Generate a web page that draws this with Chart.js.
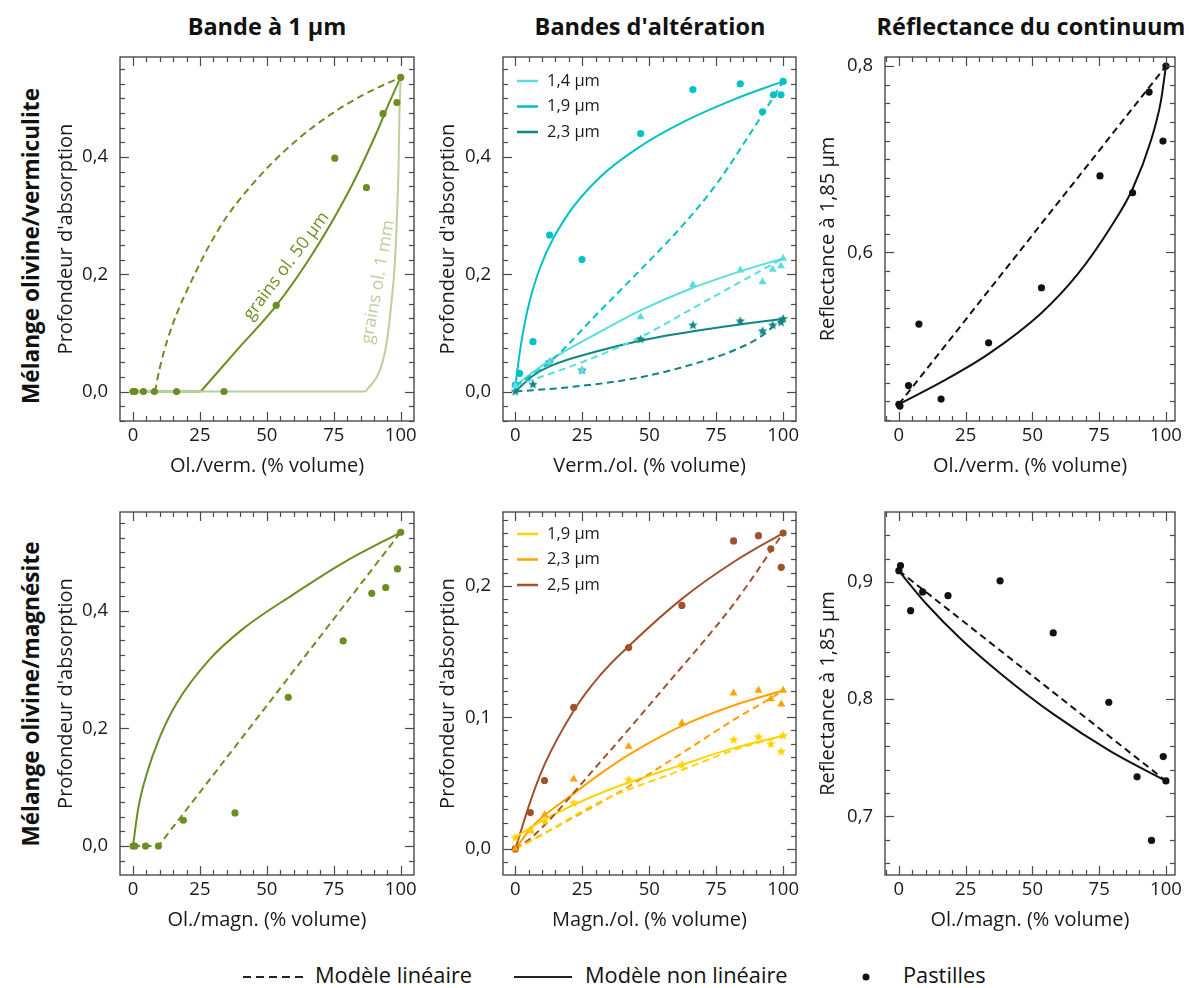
<!DOCTYPE html>
<html>
<head>
<meta charset="utf-8">
<script src="https://cdn.jsdelivr.net/npm/chart.js@4.4.0/dist/chart.umd.min.js"></script>
<style>
  body { margin: 0; background: #fff; font-family: 'Open Sans', sans-serif; color: #111; }
  #fig { position: relative; width: 1189px; height: 988px; overflow: hidden; }
  canvas { position: absolute; }
  .coltitle { position: absolute; top: 10px; font-weight: bold; font-size: 23.5px; white-space: nowrap; transform: translateX(-50%); }
  .rowtitle { position: absolute; left: 30px; font-weight: bold; font-size: 22.6px; white-space: nowrap; transform: translate(-50%, -50%) rotate(-90deg); }
  .leg { position: absolute; font-size: 21.8px; white-space: nowrap; top: 960px; }
  .legsvg { position: absolute; top: 970px; }
</style>
</head>
<body>
<div id="fig">
  <div class="coltitle" style="left:267px">Bande à 1 µm</div>
  <div class="coltitle" style="left:650px">Bandes d'altération</div>
  <div class="coltitle" style="left:1031px">Réflectance du continuum</div>
  <div class="rowtitle" style="top:246px">Mélange olivine/vermiculite</div>
  <div class="rowtitle" style="top:694px">Mélange olivine/magnésite</div>

  <svg class="legsvg" style="left:243px" width="62" height="14"><line x1="0" y1="7" x2="60" y2="7" stroke="#222" stroke-width="2" stroke-dasharray="8 5"/></svg>
  <div class="leg" style="left:315px">Modèle linéaire</div>
  <svg class="legsvg" style="left:514px" width="60" height="14"><line x1="0" y1="7" x2="58" y2="7" stroke="#222" stroke-width="2.2"/></svg>
  <div class="leg" style="left:585px">Modèle non linéaire</div>
  <svg class="legsvg" style="left:860px" width="14" height="14"><circle cx="6" cy="7" r="3.5" fill="#111"/></svg>
  <div class="leg" style="left:903px">Pastilles</div>
</div>

<script>
// ---- ticks ----
const xTicks = [0, 25, 50, 75, 100];
const yTicksAbs = [0, 0.2, 0.4];
const yTicksRefl1 = [0.6, 0.8];
const yTicksAbs2 = [0, 0.1, 0.2];
const yTicksRefl2 = [0.7, 0.8, 0.9];

// ---- panel 1 : olivine/vermiculite, bande a 1 um ----
const p1_pts_x = [0, 0.7, 3.9, 8, 16.3, 34, 53.5, 75.4, 87.2, 93.4, 98.6, 100];
const p1_pts_y = [0, 0, 0, 0, 0, 0, 0.147, 0.398, 0.348, 0.474, 0.493, 0.536];
const p1_lin_x = [8.2, 10, 13, 17, 22, 28, 35, 43, 52, 62, 73, 86, 100];
const p1_lin_y = [0, 0.04, 0.09, 0.14, 0.19, 0.245, 0.298, 0.345, 0.39, 0.432, 0.47, 0.506, 0.536];
const p1_nl50_flat = [0, 25.3];
const p1_nl50_x = [25.3, 39.3, 53.5, 67.5, 81.3, 90.9, 95.9, 100];
const p1_nl50_y = [0, 0.073, 0.1465, 0.238, 0.3476, 0.4405, 0.4946, 0.536];
const p1_nl1mm_flat = [0, 86.9];
const p1_nl1mm_x = [86.9, 92.2, 94.7, 96.5, 97.8, 98.6, 99.2, 99.5, 100];
const p1_nl1mm_y = [0, 0.036, 0.0815, 0.15, 0.218, 0.298, 0.383, 0.469, 0.536];

// ---- panel 2 : vermiculite/olivine, bandes d'alteration ----
const p2_names = ['1,4 µm', '1,9 µm', '2,3 µm'];
const p2_14_x = [0, 12.8, 24.9, 46.8, 66.3, 84, 92.3, 96.1, 99.2, 100];
const p2_14_y = [0.01, 0.05, 0.036, 0.127, 0.182, 0.207, 0.187, 0.208, 0.214, 0.227];
const p2_14_nl_x = [0, 12.8, 31.7, 46.6, 66.3, 84, 100];
const p2_14_nl_y = [0.01, 0.053, 0.102, 0.138, 0.177, 0.205, 0.227];
const p2_14_lin_x = [0, 24.9, 46.8, 69.4, 94, 100];
const p2_14_lin_y = [0.01, 0.05, 0.093, 0.15, 0.212, 0.227];
const p2_19_x = [0, 1.6, 6.6, 12.8, 24.9, 46.8, 66.3, 84, 92.3, 96.4, 99.2, 100];
const p2_19_y = [0.011, 0.031, 0.085, 0.267, 0.225, 0.44, 0.515, 0.525, 0.477, 0.506, 0.506, 0.529];
const p2_19_nl_x = [0, 1.9, 4.4, 9.3, 19.3, 31.7, 46.6, 62.8, 81.5, 100];
const p2_19_nl_y = [0.01, 0.074, 0.136, 0.212, 0.3, 0.366, 0.418, 0.46, 0.498, 0.529];
const p2_19_lin_x = [0, 12.8, 31.7, 46.6, 62.8, 75.3, 87.7, 94, 100];
const p2_19_lin_y = [0.01, 0.05, 0.138, 0.207, 0.285, 0.355, 0.44, 0.485, 0.529];
const p2_23_x = [0, 6.6, 12.8, 24.9, 46.8, 66.3, 84, 92.3, 96.1, 99.2, 100];
const p2_23_y = [0, 0.012, 0.05, 0.036, 0.089, 0.113, 0.12, 0.103, 0.113, 0.118, 0.124];
const p2_23_nl_x = [0, 6.6, 12.8, 31.7, 50.3, 69.4, 87.7, 100];
const p2_23_nl_y = [0, 0.027, 0.043, 0.07, 0.09, 0.105, 0.117, 0.124];
const p2_23_lin_x = [0, 19.3, 44.1, 62.8, 81.5, 91.4, 96.1, 100];
const p2_23_lin_y = [0, 0.007, 0.022, 0.042, 0.07, 0.093, 0.11, 0.124];

// ---- panel 3 : olivine/vermiculite, reflectance ----
const p3_pts_x = [0, 0.4, 3.6, 7.5, 15.8, 33.6, 53.4, 75.3, 87.5, 93.7, 98.9, 100];
const p3_pts_y = [0.437, 0.435, 0.457, 0.523, 0.4425, 0.503, 0.562, 0.682, 0.664, 0.772, 0.7195, 0.8];
const p3_lin_x = [0, 100];
const p3_lin_y = [0.437, 0.8];
const p3_nl_x = [0, 16.7, 33.6, 53.4, 66.8, 79.3, 87.5, 94.4, 98.1, 100];
const p3_nl_y = [0.437, 0.462, 0.491, 0.535, 0.576, 0.627, 0.668, 0.72, 0.762, 0.8];

// ---- panel 4 : olivine/magnesite, bande a 1 um ----
const p4_pts_x = [0, 0.7, 4.7, 9.5, 18.8, 38.1, 58, 78.5, 89.2, 94.4, 98.8, 100];
const p4_pts_y = [0, 0, 0, 0, 0.0438, 0.0563, 0.253, 0.349, 0.43, 0.44, 0.4716, 0.534];
const p4_lin_x = [0, 9.5, 100];
const p4_lin_y = [0, 0, 0.534];
const p4_nl_x = [0, 2, 5.1, 10.1, 16.3, 28.7, 41.2, 59.8, 78.5, 100];
const p4_nl_y = [0, 0.065, 0.122, 0.186, 0.243, 0.318, 0.37, 0.428, 0.482, 0.534];

// ---- panel 5 : magnesite/olivine, bandes d'alteration ----
const p5_names = ['1,9 µm', '2,3 µm', '2,5 µm'];
const p5_19_x = [0, 5.6, 10.9, 21.8, 42.3, 62.2, 81.5, 90.8, 95.4, 99.3, 100];
const p5_19_y = [0.0086, 0.0139, 0.0208, 0.0347, 0.0525, 0.0639, 0.0829, 0.085, 0.0796, 0.074, 0.086];
const p5_19_nl_x = [0, 10.9, 31.7, 62.2, 81.5, 100];
const p5_19_nl_y = [0.009, 0.0224, 0.0423, 0.0639, 0.0766, 0.086];
const p5_19_lin_x = [0, 6.8, 31.7, 62.2, 81.5, 100];
const p5_19_lin_y = [0, 0.007, 0.036, 0.06, 0.075, 0.086];
const p5_23_x = [0, 5.6, 10.9, 21.8, 42.3, 62.2, 81.5, 90.8, 95.4, 99.3, 100];
const p5_23_y = [0, 0.0139, 0.0259, 0.053, 0.0778, 0.0956, 0.1184, 0.1204, 0.114, 0.11, 0.1204];
const p5_23_nl_x = [0, 6.8, 21.8, 31.7, 42.3, 62.2, 81.5, 100];
const p5_23_nl_y = [0, 0.018, 0.042, 0.057, 0.0715, 0.0935, 0.109, 0.1204];
const p5_23_lin_x = [0, 42.3, 62.2, 81.5, 95.4, 100];
const p5_23_lin_y = [0, 0.0474, 0.0728, 0.098, 0.1146, 0.1204];
const p5_25_x = [0, 5.6, 10.9, 21.8, 42.3, 62.2, 81.5, 90.8, 95.4, 99.3, 100];
const p5_25_y = [0, 0.0276, 0.052, 0.1075, 0.153, 0.185, 0.234, 0.238, 0.228, 0.214, 0.24];
const p5_25_nl_x = [0, 5.6, 10.9, 21.8, 31.7, 42.3, 62.2, 81.5, 100];
const p5_25_nl_y = [0, 0.036, 0.064, 0.105, 0.132, 0.154, 0.19, 0.218, 0.24];
const p5_25_lin_x = [0, 6.8, 31.7, 56.6, 81.5, 100];
const p5_25_lin_y = [0, 0.01, 0.066, 0.125, 0.186, 0.24];

// ---- panel 6 : olivine/magnesite, reflectance ----
const p6_pts_x = [0, 0.6, 4.4, 8.9, 18.4, 37.9, 57.8, 78.6, 89.2, 94.6, 99, 100];
const p6_pts_y = [0.9096, 0.914, 0.8755, 0.8915, 0.8883, 0.901, 0.8565, 0.7974, 0.7338, 0.6795, 0.751, 0.7303];
const p6_lin_x = [0, 100];
const p6_lin_y = [0.9096, 0.7303];
const p6_nl_x = [0, 4.1, 10.4, 22.9, 38, 58, 79.3, 100];
const p6_nl_y = [0.9096, 0.898, 0.881, 0.852, 0.822, 0.787, 0.7555, 0.7303];

// colours
const GREEN = '#6b8e23', GREEN_LIGHT = '#bccf9c';
const C14 = '#58dde3', C19 = '#00c1c6', C23 = '#0f8585';
const Y19 = '#ffd200', O23 = '#ffa200', B25 = '#a0522d';
const BLACK = '#111111';

Chart.defaults.font.family = "'Open Sans', sans-serif";
Chart.defaults.color = '#1a1a1a';

const zip = (xs, ys) => xs.map((x, i) => ({ x: x, y: ys[i] }));

function starImg(color, r) {
  const c = document.createElement('canvas');
  const s = Math.ceil(r * 2) + 2;
  c.width = c.height = s;
  const g = c.getContext('2d');
  g.fillStyle = color;
  g.beginPath();
  for (let i = 0; i < 10; i++) {
    const rr = i % 2 ? r * 0.45 : r;
    const a = -Math.PI / 2 + i * Math.PI / 5;
    g.lineTo(s / 2 + rr * Math.cos(a), s / 2 + rr * Math.sin(a));
  }
  g.closePath();
  g.fill();
  return c;
}

function curve(xs, ys, color, dashed, straight) {
  const ds = {
    data: zip(xs, ys), showLine: true, borderColor: color, borderWidth: 2,
    borderDash: dashed ? [7, 4.5] : [], pointRadius: 0, order: 2, clip: false
  };
  if (straight) ds.tension = 0;
  else ds.cubicInterpolationMode = 'monotone';
  return ds;
}
function flat(range, color) {
  return { data: range.map(x => ({ x: x, y: 0 })), showLine: true, borderColor: color,
    borderWidth: 2, pointRadius: 0, tension: 0, order: 2 };
}
function dots(xs, ys, color, style) {
  const st = style === 'star' ? starImg(color, 5) : (style || 'circle');
  return { data: zip(xs, ys), showLine: false, pointStyle: st, pointRadius: style === 'triangle' ? 4.6 : 3.6,
    backgroundColor: color, borderColor: color, borderWidth: 0, order: 0, clip: false };
}

// frame with inward ticks on the four sides
const frameTicks = {
  id: 'frameTicks',
  afterDraw(chart, args, o) {
    const { ctx, chartArea: a, scales: { x, y } } = chart;
    ctx.save();
    ctx.strokeStyle = '#3c3c3c';
    ctx.lineWidth = 1.3;
    ctx.strokeRect(a.left, a.top, a.right - a.left, a.bottom - a.top);
    ctx.strokeStyle = '#4a4a4a';
    ctx.lineWidth = 1.2;
    const seg = (x1, y1, x2, y2) => { ctx.beginPath(); ctx.moveTo(x1, y1); ctx.lineTo(x2, y2); ctx.stroke(); };
    for (let k = Math.ceil(x.min / o.xMinor - 1e-9); k * o.xMinor <= x.max + 1e-9; k++) {
      const v = k * o.xMinor;
      const px = Math.round(x.getPixelForValue(v)) + 0.5;
      const len = x.ticks.some(t => Math.abs(t.value - v) < 1e-6) ? 9 : 5;
      seg(px, a.bottom, px, a.bottom - len);
      seg(px, a.top, px, a.top + len);
    }
    for (let k = Math.ceil(y.min / o.yMinor - 1e-9); k * o.yMinor <= y.max + 1e-9; k++) {
      const v = k * o.yMinor;
      const py = Math.round(y.getPixelForValue(v)) + 0.5;
      const len = y.ticks.some(t => Math.abs(t.value - v) < 1e-6) ? 9 : 5;
      seg(a.left, py, a.left + len, py);
      seg(a.right, py, a.right - len, py);
    }
    ctx.restore();
  }
};

// small legend inside the plot (panels 2 and 5)
const inLegend = {
  id: 'inLegend',
  afterDraw(chart, args, o) {
    if (!o.items) return;
    const { ctx, chartArea: a } = chart;
    ctx.save();
    o.items.forEach((it, i) => {
      const yy = a.top + o.top + i * 25.5;
      ctx.strokeStyle = it.color;
      ctx.lineWidth = 2.5;
      ctx.beginPath(); ctx.moveTo(a.left + 14, yy); ctx.lineTo(a.left + 35, yy); ctx.stroke();
      ctx.fillStyle = '#1a1a1a';
      ctx.font = "16.5px 'Open Sans', sans-serif";
      ctx.textBaseline = 'middle';
      ctx.fillText(it.label, a.left + 44, yy);
    });
    ctx.restore();
  }
};

// rotated labels along curves (panel 1)
const curveLabels = {
  id: 'curveLabels',
  afterDatasetsDraw(chart, args, o) {
    if (!o.items) return;
    const { ctx, scales: { x, y } } = chart;
    ctx.save();
    o.items.forEach(it => {
      ctx.translate(x.getPixelForValue(it.x), y.getPixelForValue(it.y));
      ctx.rotate(it.angle * Math.PI / 180);
      ctx.fillStyle = it.color;
      ctx.font = "17.5px 'Open Sans', sans-serif";
      ctx.textAlign = 'center';
      ctx.textBaseline = 'middle';
      ctx.fillText(it.text, 0, 0);
      ctx.setTransform(1, 0, 0, 1, 0, 0);
    });
    ctx.restore();
  }
};

const fmt = v => v.toFixed(1).replace('.', ',');
const PAD = 12, YW = 80, XH = 60;

function makePanel(p) {
  const c = document.createElement('canvas');
  const w = p.right - p.left + YW + PAD, h = p.bottom - p.top + XH + PAD;
  c.width = w; c.height = h;
  c.style.left = (p.left - YW) + 'px';
  c.style.top = (p.top - PAD) + 'px';
  c.style.width = w + 'px'; c.style.height = h + 'px';
  document.getElementById('fig').appendChild(c);
  new Chart(c, {
    type: 'scatter',
    data: { datasets: p.datasets },
    plugins: [frameTicks, inLegend, curveLabels],
    options: {
      responsive: false, animation: false, devicePixelRatio: 1,
      layout: { padding: { top: PAD, right: PAD, left: 0, bottom: 0 } },
      plugins: {
        legend: { display: false }, tooltip: { enabled: false },
        frameTicks: { xMinor: 5, yMinor: p.yMinor },
        inLegend: { items: p.legend, top: p.legendTop || 24 },
        curveLabels: { items: p.labels }
      },
      scales: {
        x: {
          type: 'linear', min: p.xMin, max: p.xMax,
          grid: { display: false, drawTicks: false }, border: { display: false },
          afterBuildTicks: ax => { ax.ticks = xTicks.map(v => ({ value: v })); },
          ticks: { padding: 4, color: '#1a1a1a', font: { size: 18.5 }, maxRotation: 0, autoSkip: false, callback: v => String(v) },
          title: { display: true, text: p.xTitle, color: '#1a1a1a', font: { size: 20 }, padding: { top: 0, bottom: 3 } },
          afterFit: ax => { ax.height = XH; ax.paddingLeft = 0; ax.paddingRight = 0; }
        },
        y: {
          type: 'linear', min: p.yMin, max: p.yMax,
          grid: { display: false, drawTicks: false }, border: { display: false },
          afterBuildTicks: ax => { ax.ticks = p.yTicks.map(v => ({ value: v })); },
          ticks: { padding: 12, color: '#1a1a1a', font: { size: 18.5 }, autoSkip: false, callback: fmt },
          title: { display: true, text: p.yTitle, color: '#1a1a1a', font: { size: 20 }, padding: { top: p.yTitlePad, bottom: 0 } },
          afterFit: ax => { ax.width = YW; ax.paddingTop = 0; ax.paddingBottom = 0; }
        }
      }
    }
  });
}

const ABS = "Profondeur d'absorption";
const REF = 'Reflectance à 1,85 µm';

makePanel({
  left: 120, right: 414, top: 57, bottom: 421, xMin: -4.85, xMax: 104.97, yMin: -0.0503, yMax: 0.5706,
  yTicks: yTicksAbs, yMinor: 0.025, xTitle: 'Ol./verm. (% volume)', yTitle: ABS, yTitlePad: 14,
  datasets: [
    flat(p1_nl1mm_flat, GREEN_LIGHT),
    curve(p1_nl1mm_x, p1_nl1mm_y, GREEN_LIGHT, false),
    flat(p1_nl50_flat, GREEN),
    curve(p1_nl50_x, p1_nl50_y, GREEN, false),
    curve(p1_lin_x, p1_lin_y, GREEN, true),
    dots(p1_pts_x, p1_pts_y, GREEN)
  ],
  labels: [
    { text: 'grains ol. 50 µm', x: 57.3, y: 0.214, angle: -53, color: GREEN },
    { text: 'grains ol. 1 mm', x: 91.6, y: 0.187, angle: -80, color: GREEN_LIGHT }
  ]
});

makePanel({
  left: 503, right: 796, top: 57, bottom: 421, xMin: -4.6, xMax: 104.8, yMin: -0.0503, yMax: 0.5706,
  yTicks: yTicksAbs, yMinor: 0.025, xTitle: 'Verm./ol. (% volume)', yTitle: ABS, yTitlePad: 13,
  datasets: [
    curve(p2_14_lin_x, p2_14_lin_y, C14, true),
    curve(p2_19_lin_x, p2_19_lin_y, C19, true),
    curve(p2_23_lin_x, p2_23_lin_y, C23, true),
    curve(p2_14_nl_x, p2_14_nl_y, C14, false),
    curve(p2_19_nl_x, p2_19_nl_y, C19, false),
    curve(p2_23_nl_x, p2_23_nl_y, C23, false),
    dots(p2_14_x, p2_14_y, C14, 'triangle'),
    dots(p2_19_x, p2_19_y, C19, 'circle'),
    dots(p2_23_x, p2_23_y, C23, 'star')
  ],
  legend: [{ label: p2_names[0], color: C14 }, { label: p2_names[1], color: C19 }, { label: p2_names[2], color: C23 }]
});

makePanel({
  left: 885, right: 1175, top: 57, bottom: 421, xMin: -5.2, xMax: 103.4, yMin: 0.419, yMax: 0.8097,
  yTicks: yTicksRefl1, yMinor: 0.02, xTitle: 'Ol./verm. (% volume)', yTitle: REF, yTitlePad: 11,
  datasets: [
    curve(p3_lin_x, p3_lin_y, BLACK, true, true),
    curve(p3_nl_x, p3_nl_y, BLACK, false),
    dots(p3_pts_x, p3_pts_y, BLACK)
  ]
});

makePanel({
  left: 120, right: 414, top: 512, bottom: 875, xMin: -4.85, xMax: 104.97, yMin: -0.0494, yMax: 0.5685,
  yTicks: yTicksAbs, yMinor: 0.025, xTitle: 'Ol./magn. (% volume)', yTitle: ABS, yTitlePad: 14,
  datasets: [
    curve(p4_lin_x, p4_lin_y, GREEN, true, true),
    curve(p4_nl_x, p4_nl_y, GREEN, false),
    dots(p4_pts_x, p4_pts_y, GREEN)
  ]
});

makePanel({
  left: 503, right: 796, top: 512, bottom: 875, xMin: -4.6, xMax: 104.8, yMin: -0.0198, yMax: 0.256,
  yTicks: yTicksAbs2, yMinor: 0.01, xTitle: 'Magn./ol. (% volume)', yTitle: ABS, yTitlePad: 13,
  datasets: [
    curve(p5_19_lin_x, p5_19_lin_y, Y19, true),
    curve(p5_23_lin_x, p5_23_lin_y, O23, true),
    curve(p5_25_lin_x, p5_25_lin_y, B25, true),
    curve(p5_19_nl_x, p5_19_nl_y, Y19, false),
    curve(p5_23_nl_x, p5_23_nl_y, O23, false),
    curve(p5_25_nl_x, p5_25_nl_y, B25, false),
    dots(p5_19_x, p5_19_y, Y19, 'star'),
    dots(p5_23_x, p5_23_y, O23, 'triangle'),
    dots(p5_25_x, p5_25_y, B25, 'circle')
  ],
  legend: [{ label: p5_names[0], color: Y19 }, { label: p5_names[1], color: O23 }, { label: p5_names[2], color: B25 }],
  legendTop: 22
});

makePanel({
  left: 885, right: 1175, top: 512, bottom: 875, xMin: -5.2, xMax: 103.4, yMin: 0.650, yMax: 0.9597,
  yTicks: yTicksRefl2, yMinor: 0.02, xTitle: 'Ol./magn. (% volume)', yTitle: REF, yTitlePad: 11,
  datasets: [
    curve(p6_lin_x, p6_lin_y, BLACK, true, true),
    curve(p6_nl_x, p6_nl_y, BLACK, false),
    dots(p6_pts_x, p6_pts_y, BLACK)
  ]
});
</script>
</body>
</html>
